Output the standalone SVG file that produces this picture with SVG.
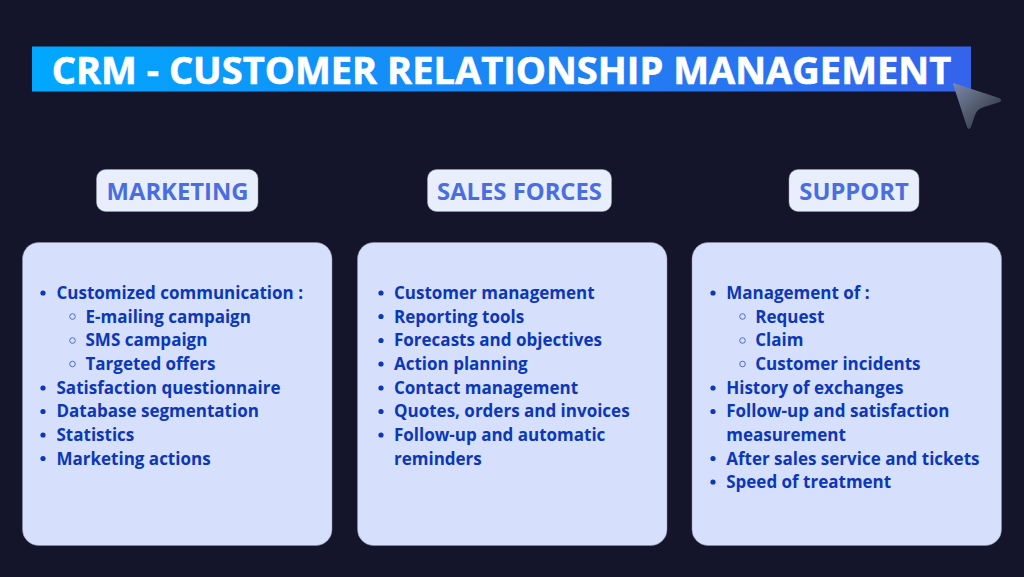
<svg xmlns="http://www.w3.org/2000/svg" width="1024" height="577" viewBox="0 0 1024 577">
<style>
text{font-family:"Open Sans","DejaVu Sans",sans-serif;font-weight:700}
.card{fill:#d6dffb;stroke:#8f94ab;stroke-width:.5}
.pill{fill:#e9eefc;stroke:#9a9eb2;stroke-width:.5}
.head{font-size:23.800px;fill:#4a6ee0;text-anchor:middle}
.item{font-size:17px;fill:#0b37b8}
.dot{fill:#0b37b8}
.ring{fill:none;stroke:#0b37b8;stroke-width:1;opacity:.65}
</style>
<defs>
<linearGradient id="bar" x1="0" y1="0" x2="1" y2="0"><stop offset="0" stop-color="#00a8ff"/><stop offset="1" stop-color="#3563ec"/></linearGradient>
<linearGradient id="cur" x1="0" y1="0" x2="1" y2="1"><stop offset="0" stop-color="#7b88b0"/><stop offset=".45" stop-color="#565f70"/><stop offset="1" stop-color="#20243a"/></linearGradient>
</defs>
<rect width="1024" height="577" fill="#14152a"/>
<g id="title">
<rect x="32" y="46.500" width="939" height="45" fill="url(#bar)"/>
<text x="51.800" y="83.500" font-size="38px" fill="#fff" stroke="#fff" stroke-width=".6">CRM - CUSTOMER RELATIONSHIP MANAGEMENT</text>
<path d="M953 84 Q952 83 955 83.500 L999 98 Q1003 100 1000 102 L984 107 Q977 109 975 115 L971 127 Q969 131 967 127 Z" fill="url(#cur)"/>
</g>
<g id="marketing">
<rect class="pill" x="96.500" y="169.500" width="161.500" height="42" rx="9"/>
<text class="head" x="177.500" y="200">MARKETING</text>
<rect class="card" x="22.500" y="242.500" width="309.500" height="303" rx="16"/>
<circle class="dot" cx="43" cy="293" r="2.600"/><text class="item" x="56.500" y="298.800">Customized communication :</text>
<circle class="ring" cx="72.500" cy="316.500" r="2.800"/><text class="item" x="85.500" y="322.500">E-mailing campaign</text>
<circle class="ring" cx="72.500" cy="340.500" r="2.800"/><text class="item" x="85.500" y="346">SMS campaign</text>
<circle class="ring" cx="72.500" cy="364" r="2.800"/><text class="item" x="85.500" y="369.800">Targeted offers</text>
<circle class="dot" cx="43" cy="388" r="2.600"/><text class="item" x="56.500" y="393.500">Satisfaction questionnaire</text>
<circle class="dot" cx="43" cy="411.500" r="2.600"/><text class="item" x="56.500" y="417.200">Database segmentation</text>
<circle class="dot" cx="43" cy="435" r="2.600"/><text class="item" x="56.500" y="440.800">Statistics</text>
<circle class="dot" cx="43" cy="458.500" r="2.600"/><text class="item" x="56.500" y="464.500">Marketing actions</text>
</g>
<g id="sales-forces">
<rect class="pill" x="427.500" y="169.500" width="184" height="42" rx="9"/>
<text class="head" x="519.500" y="200">SALES FORCES</text>
<rect class="card" x="357.500" y="242.500" width="309.500" height="303" rx="16"/>
<circle class="dot" cx="381" cy="293" r="2.600"/><text class="item" x="394" y="298.800">Customer management</text>
<circle class="dot" cx="381" cy="316.500" r="2.600"/><text class="item" x="394" y="322.500">Reporting tools</text>
<circle class="dot" cx="381" cy="340.500" r="2.600"/><text class="item" x="394" y="346">Forecasts and objectives</text>
<circle class="dot" cx="381" cy="364" r="2.600"/><text class="item" x="394" y="369.800">Action planning</text>
<circle class="dot" cx="381" cy="388" r="2.600"/><text class="item" x="394" y="393.500">Contact management</text>
<circle class="dot" cx="381" cy="411.500" r="2.600"/><text class="item" x="394" y="417.200">Quotes, orders and invoices</text>
<circle class="dot" cx="381" cy="435" r="2.600"/><text class="item" x="394" y="440.800">Follow-up and automatic</text>
<text class="item" x="394" y="464.500">reminders</text>
</g>
<g id="support">
<rect class="pill" x="789" y="169.500" width="130" height="42" rx="9"/>
<text class="head" x="854" y="200">SUPPORT</text>
<rect class="card" x="692" y="242.500" width="309.500" height="303" rx="16"/>
<circle class="dot" cx="713" cy="293" r="2.600"/><text class="item" x="726.200" y="298.800">Management of :</text>
<circle class="ring" cx="742.500" cy="316.500" r="2.800"/><text class="item" x="755.200" y="322.500">Request</text>
<circle class="ring" cx="742.500" cy="340.500" r="2.800"/><text class="item" x="755.200" y="346">Claim</text>
<circle class="ring" cx="742.500" cy="364" r="2.800"/><text class="item" x="755.200" y="369.800">Customer incidents</text>
<circle class="dot" cx="713" cy="388" r="2.600"/><text class="item" x="726.200" y="393.500">History of exchanges</text>
<circle class="dot" cx="713" cy="411.500" r="2.600"/><text class="item" x="726.200" y="417.200">Follow-up and satisfaction</text>
<text class="item" x="726.200" y="440.800">measurement</text>
<circle class="dot" cx="713" cy="458.500" r="2.600"/><text class="item" x="726.200" y="464.500">After sales service and tickets</text>
<circle class="dot" cx="713" cy="482" r="2.600"/><text class="item" x="726.200" y="488">Speed of treatment</text>
</g>
<g id="connectors"/>
</svg>
